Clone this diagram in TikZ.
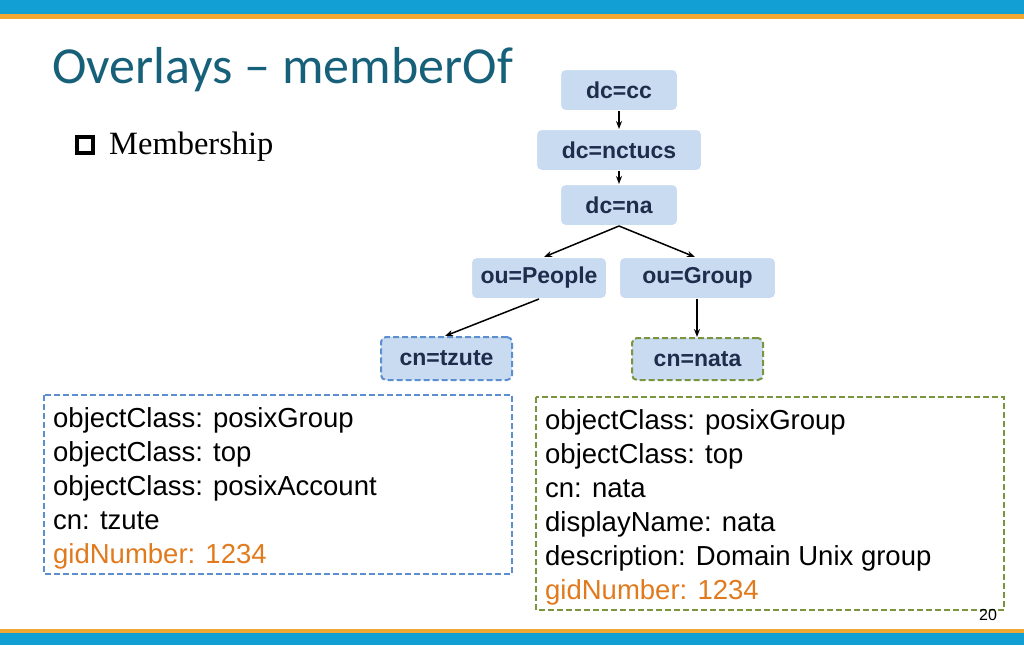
\documentclass[tikz,border=0pt]{standalone}
\usepackage{fontspec}
\setmainfont{Liberation Sans}
\newfontfamily\titlefont{Carlito}
\newfontfamily\seriffont{Liberation Serif}
\usetikzlibrary{arrows.meta}
\definecolor{barblue}{HTML}{12A0D4}
\definecolor{barorange}{HTML}{F0A830}
\definecolor{titleteal}{HTML}{17607A}
\definecolor{nodefill}{HTML}{C9DBF1}
\definecolor{nodetext}{HTML}{1F2D4D}
\definecolor{dashblue}{HTML}{5B8FD0}
\definecolor{dashgreen}{HTML}{7A9440}
\definecolor{gidorange}{HTML}{E07A1C}
\begin{document}
\begin{tikzpicture}[x=1pt,y=-1pt,
  tn/.style={fill=nodefill,rounded corners=5pt,draw=white,line width=1pt,text=nodetext,font=\fontsize{23}{26}\selectfont\bfseries,inner sep=0pt,anchor=north west},
  dsh/.style={dash pattern=on 6pt off 3pt,line width=2pt},
  arr/.style={-{Stealth[length=8pt,width=6pt]},line width=1.5pt},
  entry/.style={anchor=north west,align=left,font=\fontsize{27.5}{34}\selectfont,inner sep=0pt}]
\useasboundingbox (0,0) rectangle (1024,645);
\fill[barblue] (0,0) rectangle (1024,14);
\fill[barorange] (0,14) rectangle (1024,19);
\fill[barorange] (0,629) rectangle (1024,633);
\fill[barblue] (0,633) rectangle (1024,645);
\node[anchor=west,text=titleteal,font=\titlefont\fontsize{52}{56}\selectfont,inner sep=0pt] (title) at (52,70) {Overlays – memberOf};
\draw[line width=3.5pt] (77,137) rectangle (93,153);
\node[anchor=west,font=\seriffont\fontsize{32.5}{36}\selectfont,inner sep=0pt] (memb) at (109,147) {Membership};
\node[tn,minimum width=117pt,minimum height=41pt] (cc) at (560,69) {dc=cc};
\node[tn,minimum width=165pt,minimum height=41pt] (nctucs) at (536,129) {dc=nctucs};
\node[tn,minimum width=117pt,minimum height=41pt] (na) at (560,184) {dc=na};
\node[tn,minimum width=135pt,minimum height=41pt] (people) at (471,257) {ou=People};
\node[tn,minimum width=156pt,minimum height=41pt] (group) at (619,257) {ou=Group};
\node[tn,draw=dashblue,dsh,minimum width=131pt,minimum height=43pt] (tzute) at (380,336) {cn=tzute};
\node[tn,draw=dashgreen,dsh,minimum width=131pt,minimum height=42pt] (nata) at (631,337) {cn=nata};
\draw[arr] (cc.south) -- (nctucs.north);
\draw[arr] (nctucs.south) -- (na.north);
\draw[arr] (na.south) -- (544,257);
\draw[arr] (na.south) -- (695,257);
\draw[arr] (people.south) -- (445,336);
\draw[arr] (697,299) -- (697,337);
\draw[dashblue,dsh] (44,395) rectangle (512,574);
\draw[dashgreen,dsh] (536,397) rectangle (1004,610);
\node[entry] (lt) at (53,407) {objectClass: posixGroup\\objectClass: top\\objectClass: posixAccount\\cn: tzute\\\textcolor{gidorange}{gidNumber: 1234}};
\node[entry] (rt) at (545,409) {objectClass: posixGroup\\objectClass: top\\cn: nata\\displayName: nata\\description: Domain Unix group\\\textcolor{gidorange}{gidNumber: 1234}};
\node[font=\fontsize{16}{18}\selectfont,inner sep=0pt] (pg) at (988,615) {20};
\end{tikzpicture}
\end{document}
